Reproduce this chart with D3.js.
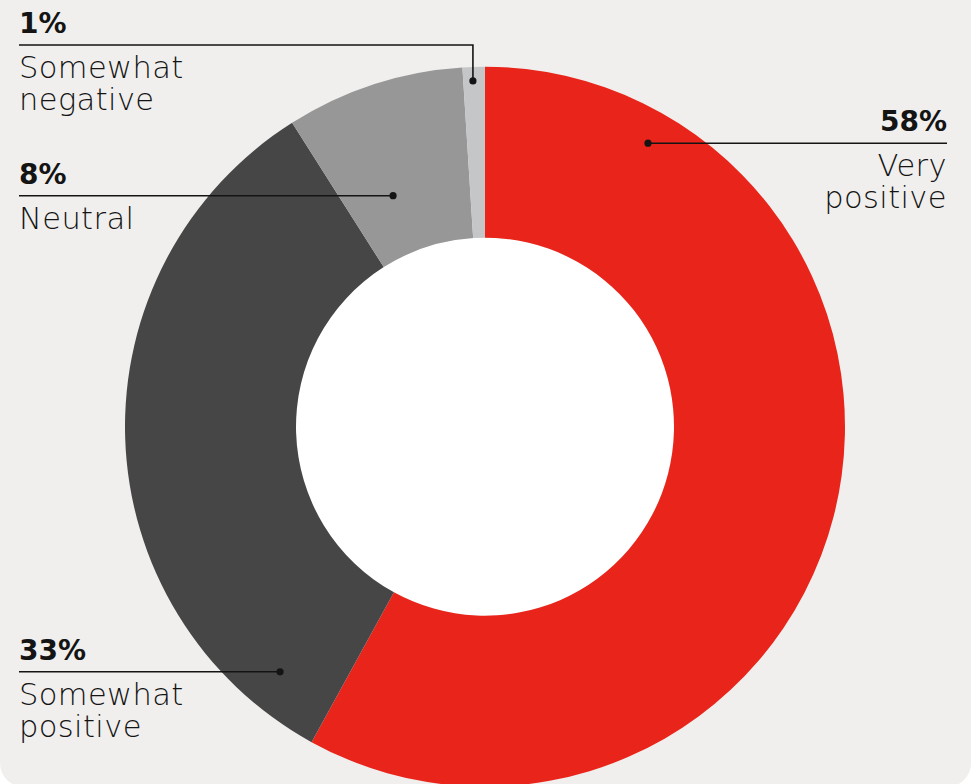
<!DOCTYPE html>
<html>
<head>
<meta charset="utf-8">
<script src="https://cdn.jsdelivr.net/npm/d3@7"></script>
<style>
  html, body { margin: 0; padding: 0; background: #ffffff; }
  svg { display: block; }
</style>
</head>
<body>
<svg id="chart" width="971" height="784"></svg>
<script>
// Survey sentiment shares (percent)
const categories = ["Very positive", "Somewhat positive", "Neutral", "Somewhat negative"];
const values = [58, 33, 8, 1];
const valueLabels = ["58%", "33%", "8%", "1%"];
const nameLines = [["Very", "positive"], ["Somewhat", "positive"], ["Neutral"], ["Somewhat", "negative"]];
const colors = ["#e9251b", "#464646", "#979797", "#c5c6c8"];

const W = 971, H = 784;
const svg = d3.select("#chart");

// card background with rounded bottom corners
svg.append("rect")
  .attr("x", 0).attr("y", -40)
  .attr("width", W).attr("height", 827)
  .attr("rx", 24).attr("ry", 24)
  .attr("fill", "#f0efed");

const cx = 485, cy = 426.7;
const outerR = 360, innerR = 189;

const pie = d3.pie().sort(null).value(d => d.value);
const arcs = pie(categories.map((c, i) => ({ name: c, value: values[i] })));
const arc = d3.arc().innerRadius(innerR).outerRadius(outerR);

const g = svg.append("g").attr("transform", `translate(${cx},${cy})`);
// white hole
g.append("circle").attr("r", innerR).attr("fill", "#ffffff");
g.selectAll("path.slice")
  .data(arcs)
  .join("path")
  .attr("class", "slice")
  .attr("d", arc)
  .attr("fill", (d, i) => colors[i]);

// callout layout: anchor point in polar terms (degrees clockwise from top, radius)
const callouts = [
  { angle: 29.9,  r: 327,   side: "right", textX: 947, lineY: null },
  { angle: 219.9, r: 319.5, side: "left",  textX: 19,  lineY: null },
  { angle: 338.3, r: 248.6, side: "left",  textX: 19,  lineY: null },
  { angle: 358.0, r: 346,   side: "left",  textX: 19,  lineY: 45 }
];

const fontFamily = "'DejaVu Sans', 'Noto Sans', sans-serif";
const ink = "#141414";
const ann = svg.append("g");

callouts.forEach((c, i) => {
  const a = c.angle * Math.PI / 180;
  const px = cx + c.r * Math.sin(a);
  const py = cy - c.r * Math.cos(a);
  const ly = c.lineY == null ? py : c.lineY;
  const textX = c.textX;

  // leader line
  const pts = c.lineY == null ? [[textX, ly], [px, py]] : [[textX, ly], [px, ly], [px, py]];
  ann.append("path")
    .attr("d", d3.line()(pts))
    .attr("fill", "none")
    .attr("stroke", ink)
    .attr("stroke-width", 1.6);
  ann.append("circle")
    .attr("cx", px).attr("cy", py).attr("r", 3.6)
    .attr("fill", ink);

  const anchor = c.side === "right" ? "end" : "start";
  ann.append("text")
    .attr("x", textX).attr("y", ly - 12)
    .attr("text-anchor", anchor)
    .attr("font-family", fontFamily)
    .attr("font-weight", 700)
    .attr("font-size", 28)
    .attr("fill", ink)
    .text(valueLabels[i]);

  nameLines[i].forEach((t, k) => {
    ann.append("text")
      .attr("x", textX).attr("y", ly + 33 + k * 32)
      .attr("text-anchor", anchor)
      .attr("font-family", fontFamily)
      .attr("font-weight", 200)
      .attr("font-size", 30.5)
      .attr("letter-spacing", 0.4)
      .attr("fill", ink)
      .text(t);
  });
});
</script>
</body>
</html>
